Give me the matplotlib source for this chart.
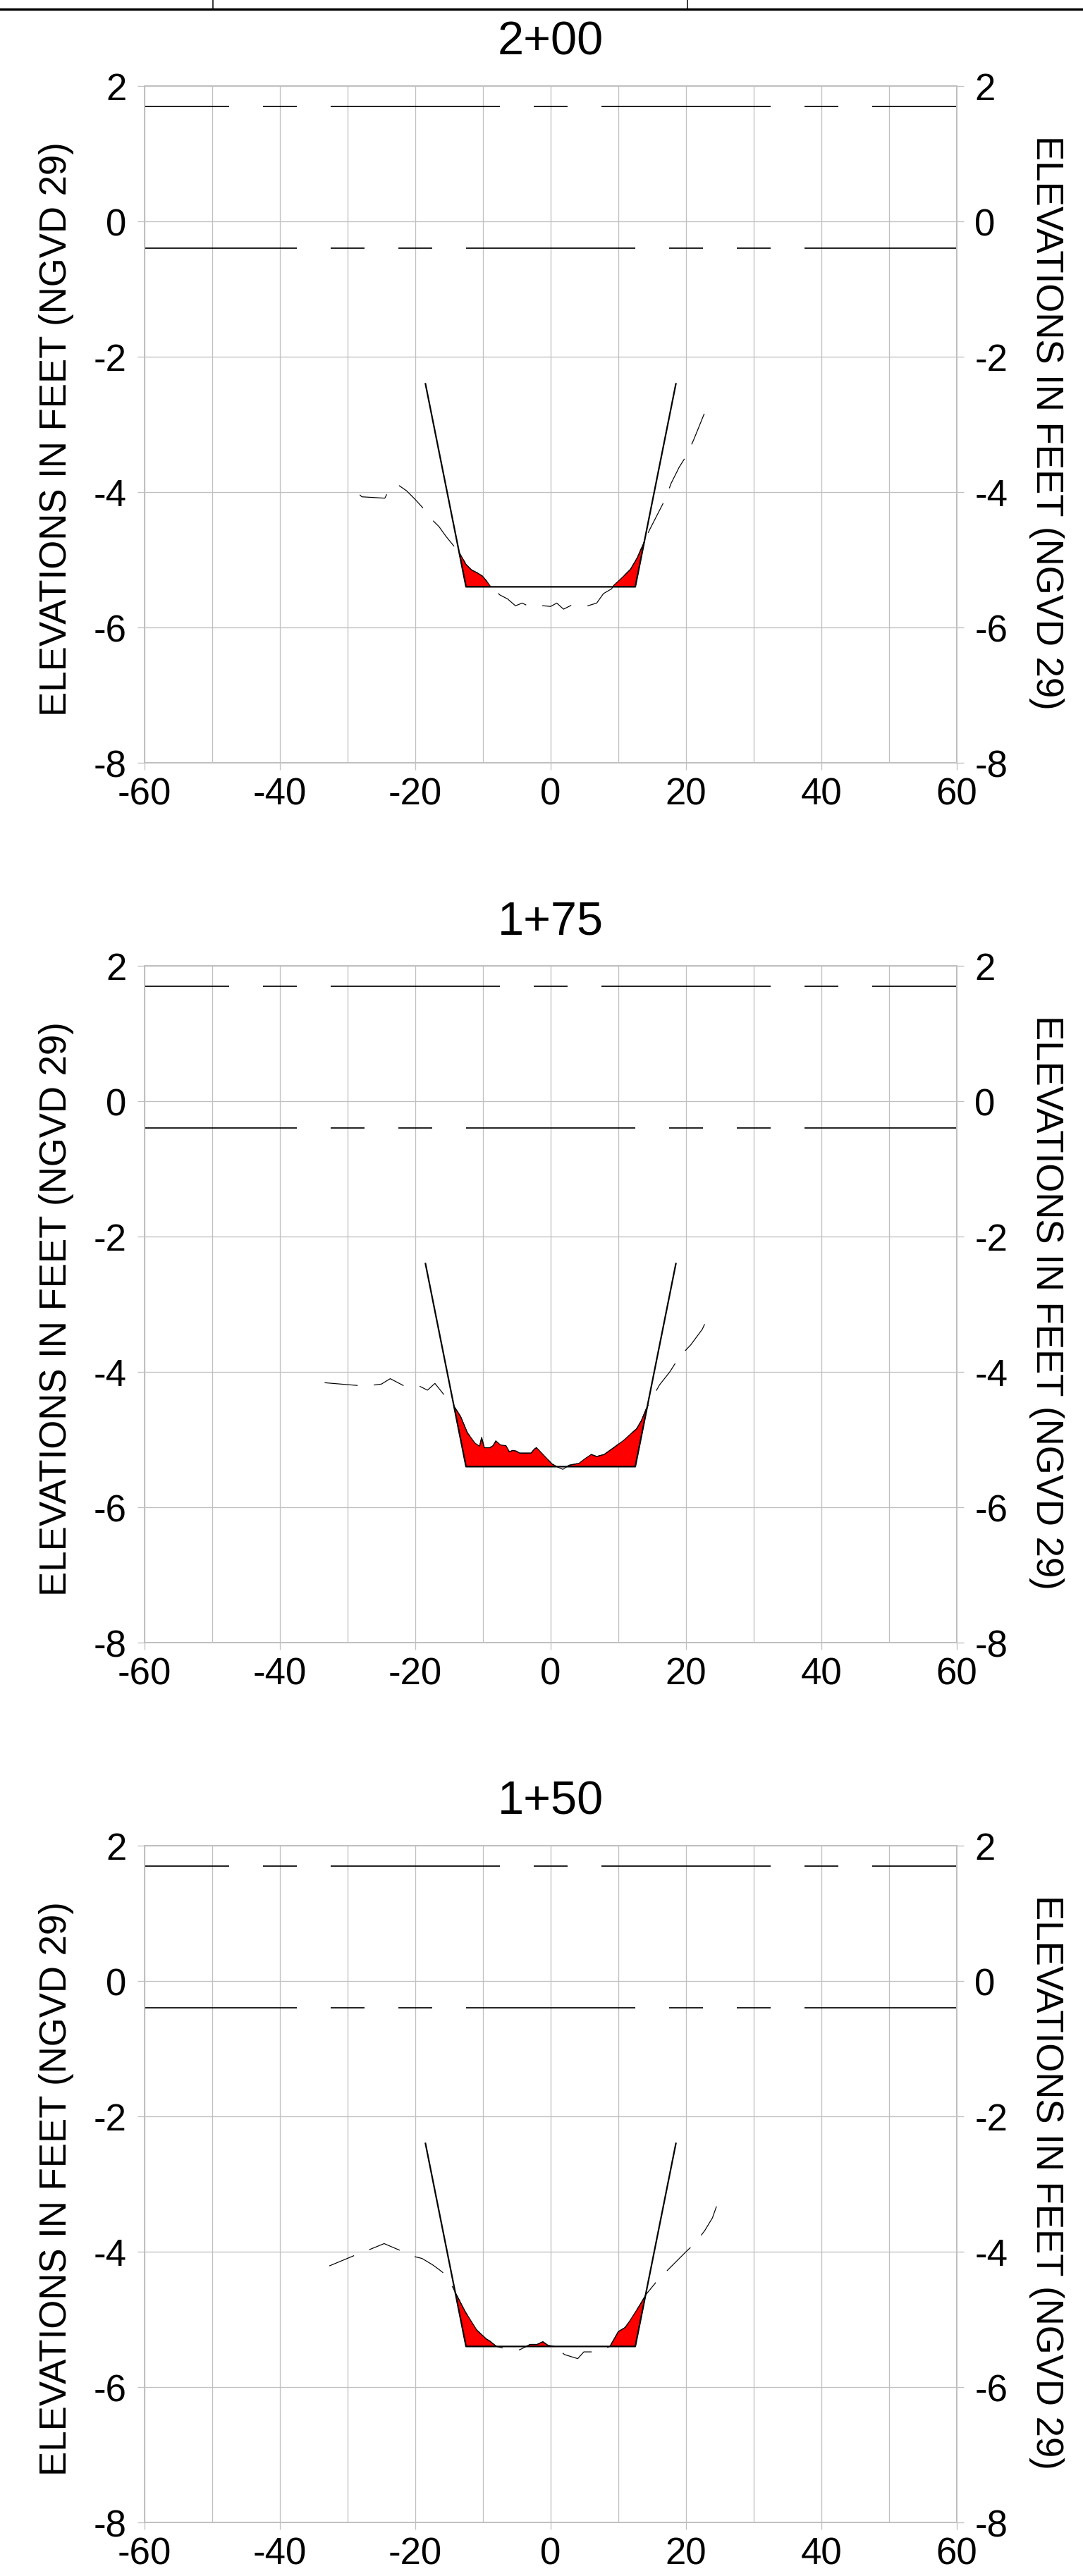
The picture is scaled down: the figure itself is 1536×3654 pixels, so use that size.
import numpy as np
import matplotlib
matplotlib.use("Agg")
import matplotlib.pyplot as plt
from matplotlib.lines import Line2D

plt.rcParams['font.family'] = ['Liberation Sans', 'DejaVu Sans']
plt.rcParams['axes.unicode_minus'] = False
plt.rcParams['lines.scale_dashes'] = False

PX = 72 / 100.0  # points per pixel at dpi=100

# Stations, top to bottom
stations = ['2+00', '1+75', '1+50']

# Design channel template (offset ft, elevation ft)
template_x = [-18.5, -12.5, 12.5, 18.5]
template_y = [-2.4, -5.4, -5.4, -2.4]

# Reference water levels
upper_level = 1.7
lower_level = -0.4

# Surveyed ground profiles
ground_200_x = [-28.2, -27.9, -24.5, -24.2, -22.6, -21.3, -20.1, -19.0, -17.4, -16.5,
                -15.5, -14.2, -13.4, -12.5, -11.7, -10.9, -10.1, -9.5, -8.85, -7.5,
                -6.35, -5.2, -4.2, -3.4, -1.1, 0.0, 0.9, 1.9, 3.1, 5.5,
                6.8, 7.8, 9.0, 9.3, 10.6, 11.8, 12.8, 14.0, 14.6, 16.9,
                17.8, 19.0, 20.2, 21.2, 22.9]
ground_200_y = [-4.04, -4.07, -4.09, -4.03, -3.89, -3.98, -4.10, -4.22, -4.42, -4.51,
                -4.65, -4.81, -4.91, -5.07, -5.15, -5.19, -5.24, -5.31, -5.40, -5.52,
                -5.58, -5.68, -5.64, -5.68, -5.68, -5.69, -5.64, -5.73, -5.67, -5.68,
                -5.64, -5.50, -5.43, -5.38, -5.26, -5.14, -4.97, -4.69, -4.56, -4.11,
                -3.87, -3.63, -3.44, -3.21, -2.79]

ground_175_x = [-33.4, -27.4, -25.0, -24.2, -23.7, -21.6, -19.4, -18.2, -17.1, -15.9,
                -14.2, -13.3, -12.3, -11.2, -10.5, -10.2, -9.8, -9.0, -8.5, -8.1,
                -7.4, -6.6, -6.1, -5.6, -5.1, -4.6, -2.9, -2.4, -2.1, -1.7,
                0.2, 0.9, 1.8, 2.7, 3.7, 4.2, 5.1, 6.0, 6.8, 7.9,
                9.3, 10.8, 11.9, 12.7, 13.4, 14.1, 14.9, 16.1, 17.6, 19.0,
                20.7, 22.4, 23.7]
ground_175_y = [-4.16, -4.21, -4.18, -4.13, -4.10, -4.21, -4.21, -4.27, -4.17, -4.32,
                -4.52, -4.66, -4.90, -5.05, -5.10, -4.97, -5.12, -5.12, -5.09, -5.02,
                -5.08, -5.09, -5.18, -5.16, -5.17, -5.20, -5.20, -5.14, -5.12, -5.16,
                -5.36, -5.40, -5.44, -5.38, -5.36, -5.35, -5.28, -5.22, -5.25, -5.22,
                -5.12, -5.01, -4.91, -4.84, -4.72, -4.55, -4.40, -4.19, -4.00, -3.78,
                -3.60, -3.37, -3.09]

ground_150_x = [-32.7, -29.1, -26.8, -24.6, -22.5, -20.2, -19.0, -17.5, -16.4, -15.9,
                -14.5, -14.0, -12.6, -10.9, -9.5, -9.0, -8.0, -7.2, -4.6, -3.6,
                -3.05, -2.0, -1.15, -0.45, 0.6, 2.05, 4.0, 4.9, 6.5, 8.75,
                10.0, 11.0, 11.7, 13.1, 14.1, 15.9, 17.7, 20.2, 21.3, 22.75,
                23.9, 24.5]
ground_150_y = [-4.21, -4.06, -3.97, -3.88, -3.97, -4.07, -4.10, -4.19, -4.27, -4.31,
                -4.52, -4.62, -4.89, -5.16, -5.29, -5.32, -5.40, -5.42, -5.45, -5.40,
                -5.37, -5.37, -5.33, -5.38, -5.40, -5.52, -5.58, -5.48, -5.48, -5.40,
                -5.18, -5.12, -5.02, -4.80, -4.63, -4.41, -4.23, -3.98, -3.88, -3.69,
                -3.50, -3.33]

grounds = [(ground_200_x, ground_200_y, 3.0),
           (ground_175_x, ground_175_y, 0.0),
           (ground_150_x, ground_150_y, 6.5)]

x_ticks = np.arange(-60, 61, 20)
x_minor = np.arange(-50, 51, 20)
y_ticks = np.arange(-8, 3, 2)

grid_color = '#c0c0c0'
fig = plt.figure(figsize=(15.36, 36.55), dpi=100)

panel_tops = [123, 1371, 2619]
for (gx, gy, goff), name, top in zip(grounds, stations, panel_tops):
    bottom = 1 - (top + 960) / 3655
    ax = fig.add_axes([205 / 1536, bottom, 1152 / 1536, 960 / 3655])
    ax.set_xlim(-60, 60)
    ax.set_ylim(-8, 2)
    ax.set_axisbelow(True)

    ax.set_xticks(x_ticks)
    ax.set_xticks(x_minor, minor=True)
    ax.set_yticks(y_ticks)
    ax.grid(True, which='both', color=grid_color, lw=1.3 * PX)
    ax.tick_params(axis='both', which='major', direction='out', length=10 * PX,
                   width=1.3 * PX, color=grid_color, labelsize=38)
    ax.tick_params(axis='x', which='minor', length=0)
    ax.tick_params(axis='x', pad=7)
    ax.tick_params(axis='y', pad=11, right=True, labelright=True)
    for s in ax.spines.values():
        s.set_color(grid_color)
        s.set_linewidth(2 * PX)

    # reference levels
    ax.axhline(upper_level, color='black', lw=1.7 * PX,
               linestyle=(120 * PX, (240 * PX, 48 * PX, 48 * PX, 48 * PX)))
    ax.axhline(lower_level, color='black', lw=1.7 * PX,
               linestyle=(24 * PX, (240 * PX, 48 * PX, 48 * PX, 48 * PX, 48 * PX, 48 * PX)))

    # material above template
    xs = np.union1d(gx, template_x)
    xs = xs[(xs >= template_x[0]) & (xs <= template_x[-1])]
    g = np.interp(xs, gx, gy)
    t = np.interp(xs, template_x, template_y)
    ax.fill_between(xs, g, t, where=g > t, interpolate=True,
                    facecolor='#ff0000', edgecolor='black', lw=1.2 * PX, zorder=3)

    # existing ground
    ax.plot(gx, gy, color='black', lw=1.2 * PX,
            linestyle=(goff, (47 * PX, 23 * PX)), zorder=4)
    # design template
    ax.plot(template_x, template_y, color='black', lw=2.2 * PX, zorder=5)

    ax.text(0.5, 1.0656, name, transform=ax.transAxes, ha='center', va='center',
            fontsize=48)
    ax.text(-0.1085, 0.494, 'ELEVATIONS IN FEET (NGVD 29)', transform=ax.transAxes,
            rotation=90, ha='center', va='center', fontsize=38)
    ax.text(1.110, 0.504, 'ELEVATIONS IN FEET (NGVD 29)', transform=ax.transAxes,
            rotation=-90, ha='center', va='center', fontsize=38)

# cut-off table border at the top of the sheet
fig.add_artist(Line2D([0, 1], [1 - 13.7 / 3655] * 2, transform=fig.transFigure,
                      color='black', lw=3.4 * PX))
for xb in [302, 975]:
    fig.add_artist(Line2D([xb / 1536] * 2, [1, 1 - 13 / 3655], transform=fig.transFigure,
                          color='black', lw=1.5 * PX))

fig.savefig('out.png', dpi=100)
